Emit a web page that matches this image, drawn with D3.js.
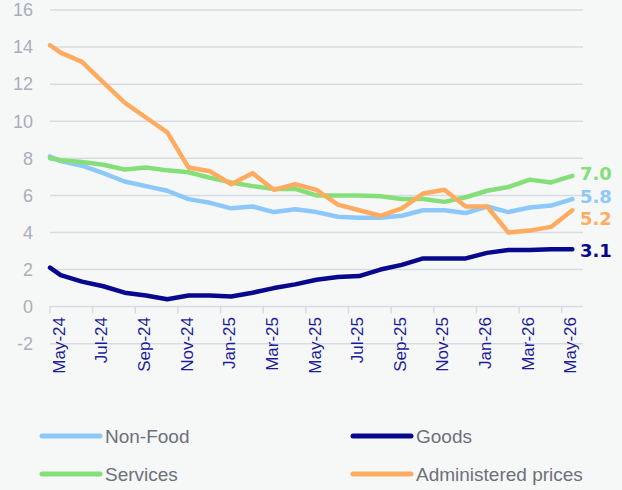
<!DOCTYPE html>
<html>
<head>
<meta charset="utf-8">
<script src="https://cdn.jsdelivr.net/npm/d3@7"></script>
<style>
  body { margin: 0; background: #f6f8f8; }
  svg { display: block; }
</style>
</head>
<body>
<div id="chart"></div>
<script>
// monthly categories, May-24 .. May-26
const months = ["May-24","Jun-24","Jul-24","Aug-24","Sep-24","Oct-24","Nov-24","Dec-24",
  "Jan-25","Feb-25","Mar-25","Apr-25","May-25","Jun-25","Jul-25","Aug-25","Sep-25","Oct-25",
  "Nov-25","Dec-25","Jan-26","Feb-26","Mar-26","Apr-26","May-26"];

// first value sits on the left edge of the axis, the rest on each month
const nonFood = [8.1, 7.85, 7.6, 7.2, 6.75, 6.5, 6.25, 5.8, 5.6, 5.3, 5.4, 5.1, 5.25, 5.1,
  4.85, 4.8, 4.8, 4.9, 5.2, 5.2, 5.05, 5.4, 5.1, 5.35, 5.45, 5.8];
const goods = [2.1, 1.7, 1.35, 1.1, 0.75, 0.6, 0.4, 0.6, 0.6, 0.55, 0.75, 1.0, 1.2, 1.45,
  1.6, 1.65, 2.0, 2.25, 2.6, 2.6, 2.6, 2.9, 3.05, 3.05, 3.1, 3.1];
const services = [8.0, 7.9, 7.8, 7.65, 7.4, 7.5, 7.35, 7.25, 6.95, 6.7, 6.5, 6.35, 6.35, 6.0,
  6.0, 6.0, 5.95, 5.8, 5.8, 5.65, 5.9, 6.25, 6.45, 6.85, 6.7, 7.05];
const administered = [14.1, 13.7, 13.2, 12.1, 11.0, 10.2, 9.4, 7.5, 7.3, 6.6, 7.2, 6.3, 6.6, 6.3,
  5.5, 5.2, 4.9, 5.3, 6.1, 6.3, 5.4, 5.4, 4.0, 4.1, 4.3, 5.2];

const endLabels = ["5.8", "3.1", "7.0", "5.2"];
const yTicks = [-2, 0, 2, 4, 6, 8, 10, 12, 14, 16];

const series = [
  { name: "Non-Food", values: nonFood, color: "#8dc8fb", nudge: -3 },
  { name: "Goods", values: goods, color: "#08088c", nudge: 1 },
  { name: "Services", values: services, color: "#85df79", nudge: -2 },
  { name: "Administered prices", values: administered, color: "#ffab60", nudge: 8 }
];

const width = 622, height = 490;
const svg = d3.select("#chart").append("svg")
  .attr("width", width)
  .attr("height", height);

const x = d3.scaleBand().domain(months).range([50, 583]).padding(0);
const y = d3.scaleLinear().domain([-2, 16]).range([343.7, 10]);
const bw = x.bandwidth();

function px(i) {
  return i === 0 ? x(months[0]) : x(months[i - 1]) + bw / 2;
}

// gridlines
svg.append("g").selectAll("line")
  .data(yTicks)
  .enter().append("line")
  .attr("x1", 50).attr("x2", 583)
  .attr("y1", d => y(d)).attr("y2", d => y(d))
  .attr("stroke", "#d8dbe1")
  .attr("stroke-width", 1.5);

// y labels
svg.append("g").selectAll("text")
  .data(yTicks)
  .enter().append("text")
  .attr("x", 33)
  .attr("y", d => y(d))
  .attr("dy", "0.35em")
  .attr("text-anchor", "end")
  .attr("font-family", "Liberation Sans, Arial, sans-serif")
  .attr("font-size", 18)
  .attr("fill", "#a9aeb8")
  .text(d => d);

// tick marks every two months on the zero line
const tickMonths = months.filter((m, i) => i % 2 === 0);
svg.append("g").selectAll("line")
  .data(tickMonths)
  .enter().append("line")
  .attr("x1", d => x(d)).attr("x2", d => x(d))
  .attr("y1", y(0)).attr("y2", y(0) + 7)
  .attr("stroke", "#d8dbe1")
  .attr("stroke-width", 1.5);

// x labels, rotated
svg.append("g").selectAll("text")
  .data(tickMonths)
  .enter().append("text")
  .attr("transform", d => `translate(${x(d) + bw / 2 + 4}, 317) rotate(-90)`)
  .attr("text-anchor", "end")
  .attr("font-family", "Liberation Sans, Arial, sans-serif")
  .attr("font-size", 17)
  .attr("fill", "#1c1c98")
  .text(d => d);

// lines
const line = d3.line()
  .x((d, i) => px(i))
  .y(d => y(d));

svg.append("g").selectAll("path")
  .data(series)
  .enter().append("path")
  .attr("d", d => line(d.values))
  .attr("fill", "none")
  .attr("stroke", d => d.color)
  .attr("stroke-width", 4.5)
  .attr("stroke-linejoin", "round")
  .attr("stroke-linecap", "round");

// end labels
svg.append("g").selectAll("text")
  .data(series)
  .enter().append("text")
  .attr("x", 580)
  .attr("y", d => y(d.values[d.values.length - 1]) + d.nudge)
  .attr("dy", "0.36em")
  .attr("font-family", "DejaVu Sans, Verdana, sans-serif")
  .attr("font-weight", "bold")
  .attr("font-size", 18)
  .attr("fill", d => d.color)
  .text((d, i) => endLabels[i]);

// legend, two columns
const legend = svg.append("g").selectAll("g")
  .data(series)
  .enter().append("g")
  .attr("transform", (d, i) => `translate(${i % 2 === 0 ? 42 : 353}, ${i < 2 ? 436 : 474})`);

legend.append("line")
  .attr("x1", 0).attr("x2", 58)
  .attr("stroke", d => d.color)
  .attr("stroke-width", 5)
  .attr("stroke-linecap", "round");

legend.append("text")
  .attr("x", 63)
  .attr("dy", "0.35em")
  .attr("font-family", "Liberation Sans, Arial, sans-serif")
  .attr("font-size", 19)
  .attr("fill", "#6c707a")
  .text(d => d.name);
</script>
</body>
</html>
